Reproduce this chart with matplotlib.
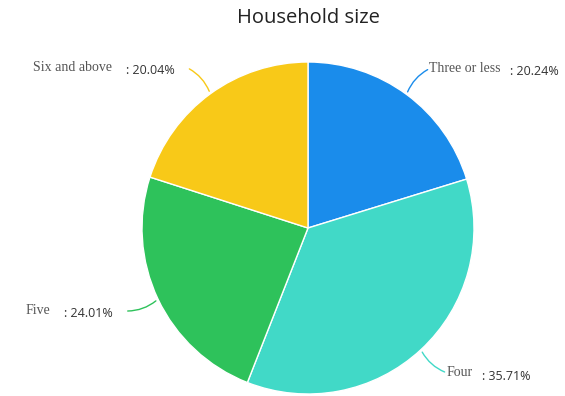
import numpy as np
import matplotlib.pyplot as plt

# household size shares (%), clockwise from 12 o'clock
categories = ['Three or less', 'Four', 'Five', 'Six and above']
shares = [20.24, 35.71, 24.01, 20.04]
colors = ['#1a8ceb', '#41d9c7', '#2ec25b', '#f8c918']

W, H = 565, 396
cx, cy, R = 308, 168, 166   # pixels, y measured from bottom

fig = plt.figure(figsize=(W / 100, H / 100), dpi=100)
ax = fig.add_axes([0, 0, 1, 1])

wedges, _ = ax.pie(shares, colors=colors, startangle=90, counterclock=False,
                   center=(cx, cy), radius=R, frame=True,
                   wedgeprops=dict(edgecolor='white', linewidth=1))
ax.set_xlim(0, W)
ax.set_ylim(0, H)
ax.axis('off')

for w, name, val, col in zip(wedges, categories, shares, colors):
    mid = np.deg2rad((w.theta1 + w.theta2) / 2)
    x0 = cx + R * np.cos(mid)
    y0 = cy + R * np.sin(mid)
    right = np.cos(mid) > 0
    up = np.sin(mid) > 0
    # leader end is nudged a little toward the horizontal
    shift = -0.017 if right == up else 0.017
    x1 = cx + 201 * np.cos(mid + shift)
    y1 = cy + 201 * np.sin(mid + shift)
    rad = 0.2 if right == up else -0.2
    ax.annotate('', xy=(x0, y0), xytext=(x1, y1),
                arrowprops=dict(arrowstyle='-', color=col, lw=1,
                                connectionstyle=f'arc3,rad={rad}'))
    if right:
        t = ax.text(x1 - 1, y1, name, ha='left', va='center',
                    family='Liberation Serif', fontsize=10, color='#555555')
        ax.annotate(f': {val:.2f}%', xy=(1, 0.5), xycoords=t,
                    xytext=(7, -2.5), textcoords='offset points',
                    ha='left', va='center', family='Open Sans',
                    fontsize=9, color='#333333')
    else:
        t = ax.text(x1 - 12, y1 - 3, f': {val:.2f}%', ha='right', va='center',
                    family='Open Sans', fontsize=9, color='#333333')
        ax.annotate(name, xy=(0, 0.5), xycoords=t,
                    xytext=(-10, 2.5), textcoords='offset points',
                    ha='right', va='center', family='Liberation Serif',
                    fontsize=10, color='#555555')

ax.text(308, H - 18, 'Household size', ha='center', va='center',
        family='Open Sans', fontsize=14.5, color='#222222')

plt.savefig('out.png', dpi=100)
